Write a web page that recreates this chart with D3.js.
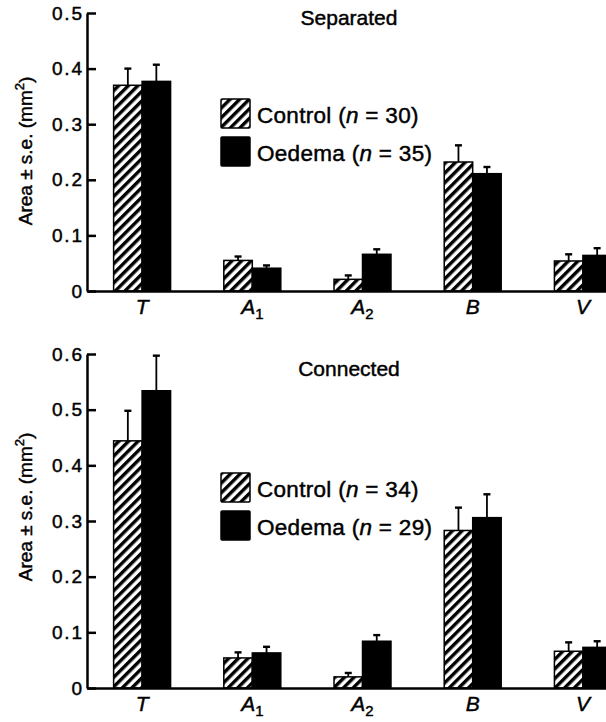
<!DOCTYPE html>
<html>
<head>
<meta charset="utf-8">
<script src="https://cdn.jsdelivr.net/npm/d3@7"></script>
<style>
  body { margin: 0; background: #fff; }
  svg { display: block; font-family: "Liberation Sans", Arial, Helvetica, sans-serif; }
  svg text { stroke: #000; stroke-width: 0.45px; }
</style>
</head>
<body>
<svg id="chart" width="606" height="722"></svg>
<script>
// categories and series
var categories = ["T", "A1", "A2", "B", "V"];
var series = ["Control", "Oedema"];

// separated panel (mean, mean + s.e.)
var sepControl = [0.370, 0.055, 0.021, 0.232, 0.054];
var sepControlTop = [0.400, 0.062, 0.028, 0.262, 0.066];
var sepOedema = [0.377, 0.041, 0.066, 0.211, 0.064];
var sepOedemaTop = [0.407, 0.046, 0.075, 0.223, 0.077];
var sepN = [30, 35];
var sepTicks = [0, 0.1, 0.2, 0.3, 0.4, 0.5];

// connected panel
var conControl = [0.444, 0.054, 0.020, 0.283, 0.066];
var conControlTop = [0.498, 0.064, 0.027, 0.324, 0.082];
var conOedema = [0.534, 0.063, 0.084, 0.306, 0.073];
var conOedemaTop = [0.597, 0.074, 0.095, 0.348, 0.084];
var conN = [34, 29];
var conTicks = [0, 0.1, 0.2, 0.3, 0.4, 0.5, 0.6];

var svg = d3.select("#chart");

// hatch pattern for control bars
var defs = svg.append("defs");
defs.append("pattern")
  .attr("id", "hatch")
  .attr("patternUnits", "userSpaceOnUse")
  .attr("width", 6.8)
  .attr("height", 6.8)
  .attr("patternTransform", "rotate(45)")
  .call(function(p) {
    p.append("rect").attr("width", 6.8).attr("height", 6.8).attr("fill", "#fff");
    p.append("rect").attr("x", 0).attr("width", 3.4).attr("height", 6.8).attr("fill", "#000");
  });

var x0 = d3.scaleBand()
  .domain(categories)
  .range([87, 638])
  .paddingInner(0.483)
  .paddingOuter(0.2415);

var x1 = d3.scaleBand()
  .domain(series)
  .range([0, x0.bandwidth()]);

var fmt = function(d) { return d === 0 ? "0" : d3.format(".1f")(d); };

function drawPanel(cfg) {
  var g = svg.append("g");
  var y = d3.scaleLinear().domain([0, cfg.max]).range([cfg.bottom, cfg.top]);

  var rows = categories.map(function(c, i) {
    return [
      { cat: c, s: "Control", v: cfg.control[i], top: cfg.controlTop[i] },
      { cat: c, s: "Oedema", v: cfg.oedema[i], top: cfg.oedemaTop[i] }
    ];
  });
  var flat = d3.merge(rows);

  // error bars
  var err = g.append("g").attr("stroke", "#000");
  flat.forEach(function(d) {
    var cx = x0(d.cat) + x1(d.s) + x1.bandwidth() / 2;
    err.append("line")
      .attr("x1", cx).attr("x2", cx)
      .attr("y1", y(d.v)).attr("y2", y(d.top))
      .attr("stroke-width", 1.8);
    err.append("line")
      .attr("x1", cx - 3.5).attr("x2", cx + 3.5)
      .attr("y1", y(d.top)).attr("y2", y(d.top))
      .attr("stroke-width", 2.4);
  });

  // bars
  g.append("g").selectAll("rect")
    .data(flat)
    .join("rect")
    .attr("x", function(d) { return x0(d.cat) + x1(d.s); })
    .attr("y", function(d) { return y(d.v); })
    .attr("width", x1.bandwidth())
    .attr("height", function(d) { return y(0) - y(d.v); })
    .attr("fill", function(d) { return d.s === "Control" ? "url(#hatch)" : "#000"; })
    .attr("stroke", "#000")
    .attr("stroke-width", 1.5);

  // y axis, ticks pointing inward
  var ya = g.append("g")
    .attr("transform", "translate(87,0)")
    .call(d3.axisLeft(y).tickValues(cfg.ticks).tickFormat(fmt)
      .tickSizeInner(-9).tickSizeOuter(0).tickPadding(5));
  ya.selectAll("path, line").attr("stroke-width", 2.5);
  ya.selectAll("text")
    .attr("font-size", 19)
    .attr("letter-spacing", 1.8)
    .attr("dx", 1.8)
    .attr("font-family", null)
    .attr("fill", "#000");

  // x axis
  var xa = g.append("g")
    .attr("transform", "translate(0," + cfg.bottom + ")")
    .call(d3.axisBottom(x0).tickSize(0).tickSizeOuter(0).tickPadding(8));
  xa.select(".domain").attr("stroke-width", 2.5);
  xa.selectAll("text")
    .attr("font-size", 21)
    .attr("font-family", null)
    .attr("fill", "#000")
    .each(function(d) {
      var t = d3.select(this).text("");
      t.append("tspan").attr("font-style", "italic").text(d.charAt(0));
      if (d.length > 1) {
        t.append("tspan").attr("font-size", 15).attr("dy", 5).text(d.slice(1));
      }
    });

  // y label
  var yl = g.append("text")
    .attr("transform", "translate(32," + cfg.labelY + ") rotate(-90)")
    .attr("text-anchor", "middle")
    .attr("font-size", 19);
  yl.append("tspan").text("Area \u00b1 s.e. (mm");
  yl.append("tspan").attr("font-size", 13).attr("dy", -8).text("2");
  yl.append("tspan").attr("dy", 8).text(")");

  // title
  g.append("text")
    .attr("x", 349).attr("y", cfg.titleY)
    .attr("text-anchor", "middle")
    .attr("font-size", 21)
    .text(cfg.title);

  // legend
  var lg = g.append("g");
  series.forEach(function(s, i) {
    var ly = cfg.legendY + i * 38;
    lg.append("rect")
      .attr("x", 221).attr("y", ly)
      .attr("width", 29).attr("height", 29)
      .attr("rx", 1)
      .attr("fill", s === "Control" ? "url(#hatch)" : "#000")
      .attr("stroke", "#000").attr("stroke-width", 1.5);
    var t = lg.append("text")
      .attr("x", 257).attr("y", ly + 24)
      .attr("font-size", 22.5)
      .attr("letter-spacing", 0.3);
    t.append("tspan").text(s + " (");
    t.append("tspan").attr("font-style", "italic").text("n");
    t.append("tspan").text(" = " + cfg.n[i] + ")");
  });
}

drawPanel({
  title: "Separated", titleY: 25,
  max: 0.5, top: 13, bottom: 291, ticks: sepTicks, labelY: 151,
  control: sepControl, controlTop: sepControlTop,
  oedema: sepOedema, oedemaTop: sepOedemaTop,
  n: sepN, legendY: 99
});

drawPanel({
  title: "Connected", titleY: 376,
  max: 0.6, top: 354, bottom: 688, ticks: conTicks, labelY: 507,
  control: conControl, controlTop: conControlTop,
  oedema: conOedema, oedemaTop: conOedemaTop,
  n: conN, legendY: 473
});
</script>
</body>
</html>
